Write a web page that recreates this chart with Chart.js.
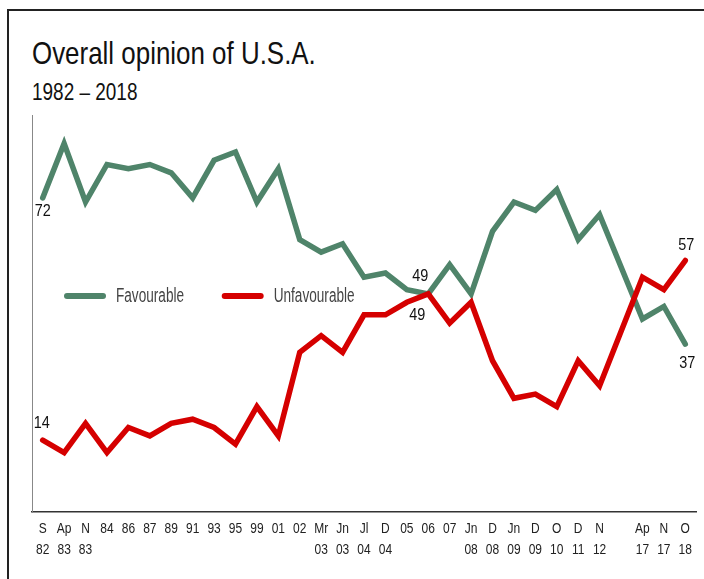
<!DOCTYPE html>
<html>
<head>
<meta charset="utf-8">
<script src="https://cdn.jsdelivr.net/npm/chart.js@4/dist/chart.umd.min.js"></script>
<style>
  html, body { margin: 0; padding: 0; background: #fff; }
  body { width: 704px; height: 579px; position: relative; overflow: hidden; }
  #frame { position: absolute; left: 7px; top: 9px; width: 800px; height: 700px;
           border-left: 2px solid #222; border-top: 2px solid #222; }
  .ttl { position: absolute; left: 32px; white-space: nowrap; transform-origin: 0 0;
         font-family: 'Liberation Sans', Arial, sans-serif; color: #111; line-height: 1; }
  #title { top: 37px; font-size: 32px; transform: scaleX(0.81); }
  #subtitle { top: 80px; font-size: 24px; transform: scaleX(0.79); }
  #c { position: absolute; left: 0; top: 0; }
</style>
</head>
<body>
<div id="frame"></div>
<div id="title" class="ttl">Overall opinion of U.S.A.</div>
<div id="subtitle" class="ttl">1982 – 2018</div>
<canvas id="c" width="704" height="579"></canvas>
<script>
// ---- data ----
const categories = [["S","82"],["Ap","83"],["N","83"],"84","86","87","89","91","93","95","99","01","02",
  ["Mr","03"],["Jn","03"],["Jl","04"],["D","04"],"05","06","07",["Jn","08"],["D","08"],["Jn","09"],
  ["D","09"],["O","10"],["D","11"],["N","12"],"",["Ap","17"],["N","17"],["O","18"]];
const favourable   = [72,85,71,80,79,80,78,72,81,83,71,79,62,59,61,53,54,50,49,56,49,64,71,69,74,62,68,null,43,46,37];
const unfavourable = [14,11,18,11,17,15,18,19,17,13,22,15,35,39,35,44,44,47,49,42,47,33,24,25,22,33,27,null,53,50,57];
const seriesNames = ["Favourable", "Unfavourable"];
// labelled points: [datasetIndex, categoryIndex]
const labelledPoints = [[0,0],[1,0],[0,18],[1,18],[1,30],[0,30]];

// ---- styling ----
const FONT = "'Liberation Sans', Arial, sans-serif";
const GREEN = 'rgb(79,132,106)';
const RED = 'rgb(213,0,0)';
// condensed look: horizontal squeeze by font size
const SQUEEZE = {15: 0.8, 17: 0.85, 20: 0.68};
const origFill = CanvasRenderingContext2D.prototype.fillText;
CanvasRenderingContext2D.prototype.fillText = function(text, x, y) {
  const m = /(\d+(?:\.\d+)?)px/.exec(this.font);
  const s = m ? (SQUEEZE[Math.round(+m[1])] || 1) : 1;
  if (s === 1) return origFill.call(this, text, x, y);
  this.save(); this.translate(x, y); this.scale(s, 1);
  origFill.call(this, text, 0, 0);
  this.restore();
};

const labelOffsets = [[0,13],[-1,-17],[-8,-17.5],[-11,21],[1,-15.5],[2,19]];

const LEG_FONT = 20, LEG_BOX = 42;
const mctx = document.createElement('canvas').getContext('2d');
mctx.font = LEG_FONT + 'px ' + FONT;
const favW = mctx.measureText(seriesNames[0]).width;
const LEG_PAD = Math.max(0, 221.7 - 64 - LEG_BOX - LEG_FONT/2 - favW);

const legendMover = {
  id: 'legendMover',
  afterInit(chart) {
    const lg = chart.legend;
    const fit = lg.fit.bind(lg);
    lg.fit = function() { fit(); this.height = 0; };
  },
  afterLayout(chart) {
    const lg = chart.legend;
    lg.left = 64 - LEG_PAD; lg.right = 650;
    lg.top = 296 - LEG_FONT/2 - LEG_PAD; lg.bottom = lg.top + 60;
    lg.width = lg.right - lg.left; lg.height = 60;
  }
};

const pointLabels = {
  id: 'pointLabels',
  afterDatasetsDraw(chart) {
    const ctx = chart.ctx;
    ctx.save();
    ctx.font = '17px ' + FONT;
    ctx.fillStyle = '#111';
    ctx.textAlign = 'center';
    ctx.textBaseline = 'middle';
    labelledPoints.forEach(([ds, idx], k) => {
      const el = chart.getDatasetMeta(ds).data[idx];
      const v = chart.data.datasets[ds].data[idx];
      const [dx, dy] = labelOffsets[k];
      ctx.fillText(String(v), el.x + dx, el.y + dy);
    });
    ctx.restore();
  }
};

new Chart(document.getElementById('c'), {
  type: 'line',
  data: {
    labels: categories,
    datasets: [
      { label: seriesNames[0], data: favourable, borderColor: GREEN, backgroundColor: GREEN, order: 1 },
      { label: seriesNames[1], data: unfavourable, borderColor: RED, backgroundColor: RED, order: 0 }
    ]
  },
  options: {
    responsive: false,
    animation: false,
    devicePixelRatio: 1,
    layout: { padding: { left: 32, right: 8, top: 115, bottom: 0 } },
    elements: {
      line: { borderWidth: 5.5, tension: 0, borderCapStyle: 'round', borderJoinStyle: 'miter', fill: false },
      point: { radius: 0, hoverRadius: 0 }
    },
    spanGaps: true,
    scales: {
      x: {
        type: 'category',
        offset: true,
        grid: { display: false, drawTicks: false },
        border: { display: true, color: '#333', width: 1.5 },
        ticks: { autoSkip: false, maxRotation: 0, minRotation: 0, padding: 7, color: '#222',
                 font: { family: FONT, size: 15, lineHeight: 1.38 } },
        afterFit: (s) => { s.height = 67; }
      },
      y: {
        min: -3.23, max: 91.85, bounds: 'data',
        grid: { display: false, drawTicks: false },
        border: { display: true, color: '#888', width: 1 },
        ticks: { display: false },
        afterFit: (s) => { s.width = 0; }
      }
    },
    plugins: {
      tooltip: { enabled: false },
      title: { display: false },
      legend: {
        display: true,
        position: 'top',
        align: 'start',
        labels: {
          boxWidth: LEG_BOX, boxHeight: 6, padding: LEG_PAD, color: '#444',
          font: { family: FONT, size: LEG_FONT },
          generateLabels: (chart) => chart.data.datasets.map((ds, i) => ({
            text: ds.label, fillStyle: ds.borderColor, strokeStyle: ds.borderColor,
            lineWidth: 0, borderRadius: 3, hidden: false, datasetIndex: i, fontColor: '#444'
          }))
        }
      }
    }
  },
  plugins: [legendMover, pointLabels]
});
</script>
</body>
</html>
